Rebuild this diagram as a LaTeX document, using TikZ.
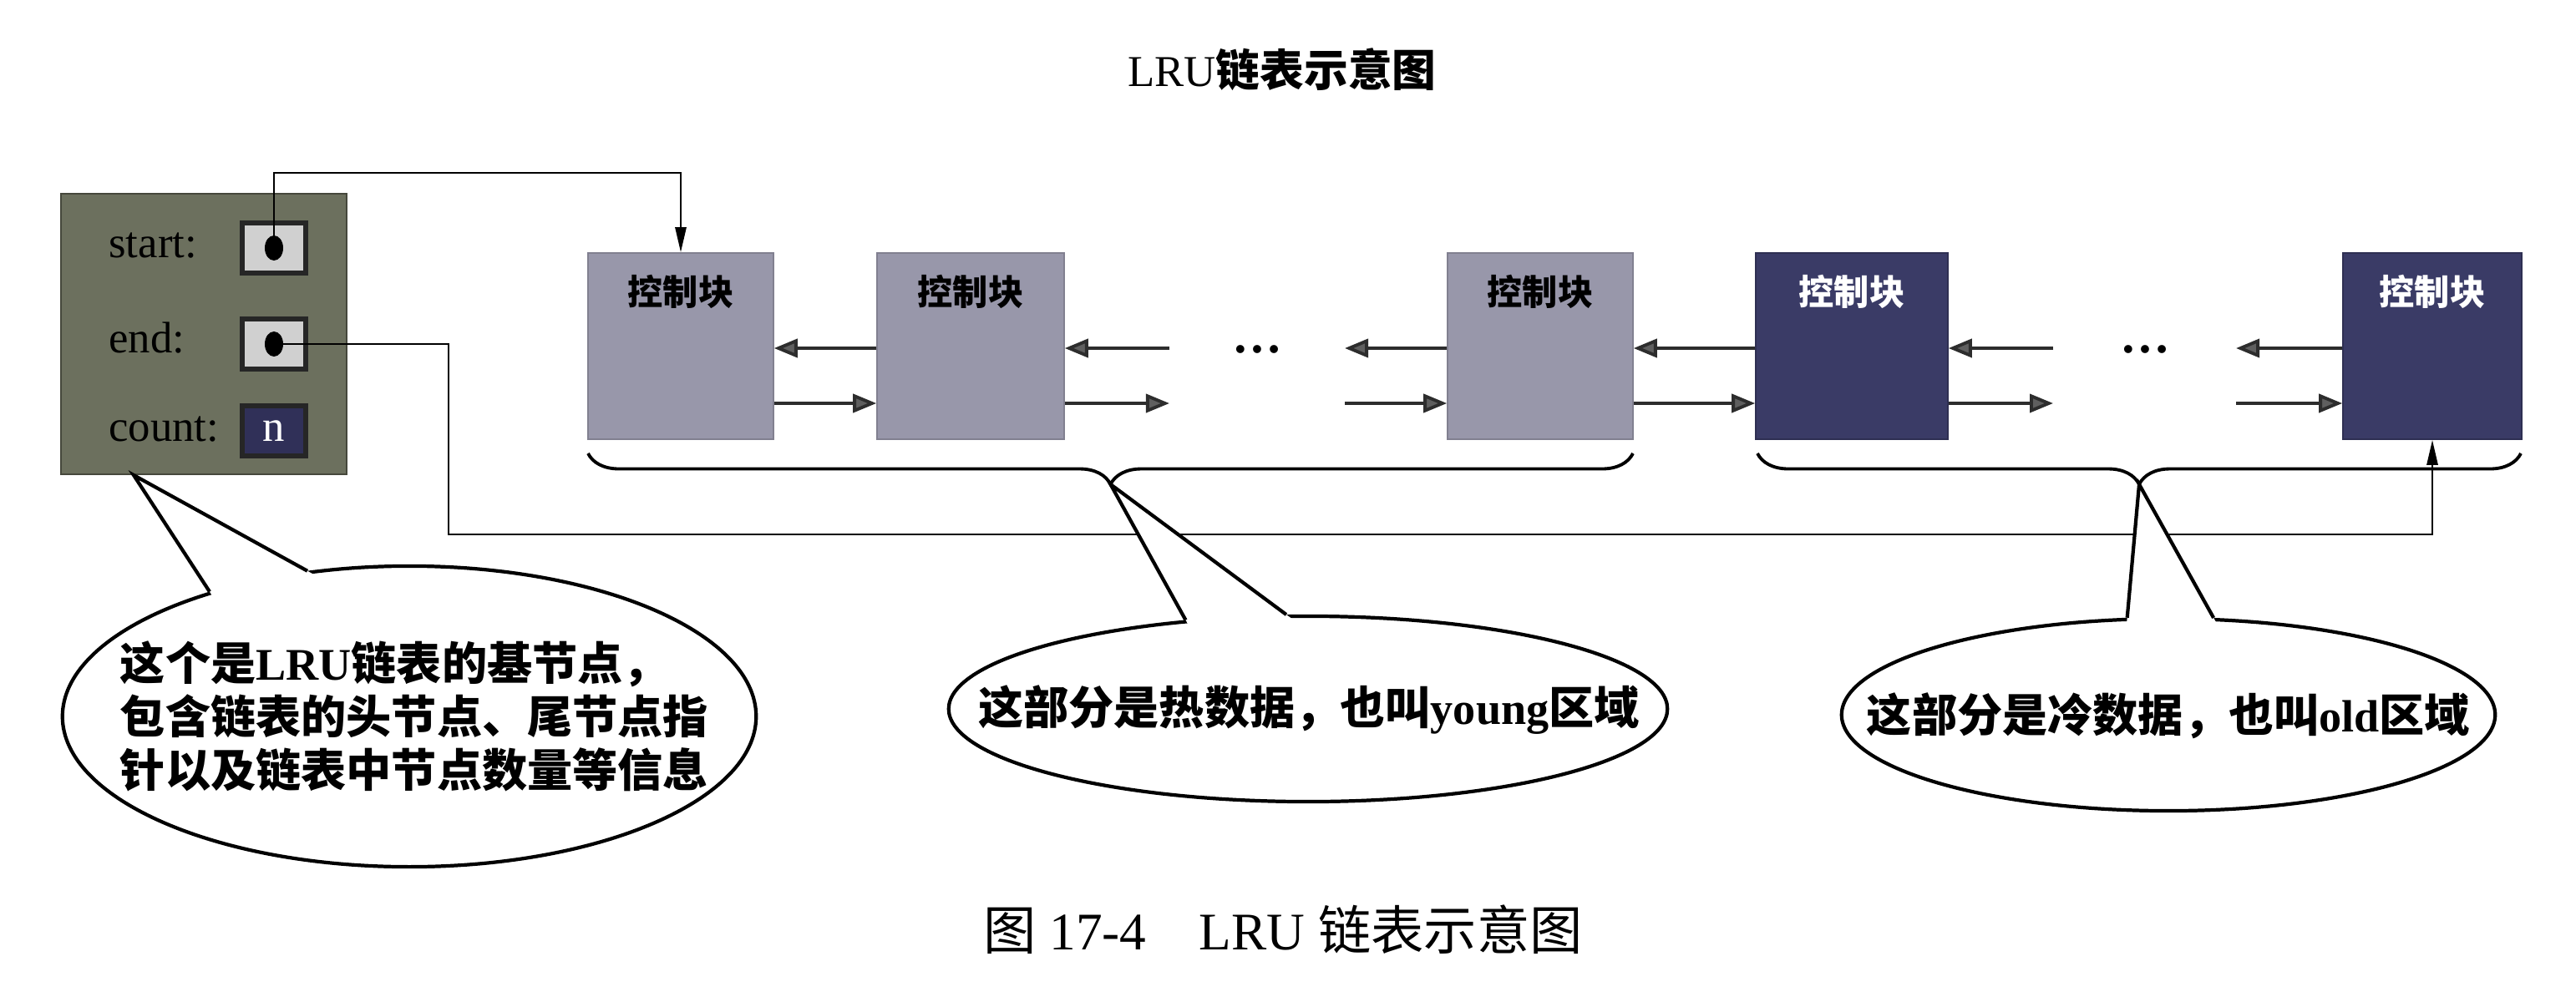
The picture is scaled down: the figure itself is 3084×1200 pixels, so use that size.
\documentclass[tikz,border=0pt]{standalone}
\usepackage{fontspec}
\setmainfont{Liberation Serif}
\newfontfamily\cjk{Noto Sans CJK SC}
\usetikzlibrary{shapes.geometric,arrows.meta,decorations.pathreplacing,calc}
\definecolor{basebg}{RGB}{108,112,94}
\definecolor{baseedge}{RGB}{70,72,60}
\definecolor{hotbox}{RGB}{152,151,170}
\definecolor{coldbox}{RGB}{58,59,102}
\definecolor{slotbg}{RGB}{208,208,208}
\definecolor{countbg}{RGB}{48,48,88}
\definecolor{headgray}{RGB}{95,95,95}
\definecolor{linkgray}{RGB}{45,45,45}
\begin{document}
\begin{tikzpicture}[x=0.01cm, y=-0.01cm,
  cell/.style={rectangle, inner sep=0, minimum height=2.23cm},
  hot/.style={cell, fill=hotbox, draw=hotbox!85!black, line width=0.4pt},
  cold/.style={cell, fill=coldbox, draw=coldbox!80!black, line width=0.4pt},
  celltext/.style={font=\cjk\bfseries\fontsize{12pt}{14pt}\selectfont},
  link/.style={draw=linkgray, line width=1.1pt, -{Triangle[length=0.28cm,width=0.22cm,fill=headgray]}},
  ptr/.style={draw=black, line width=0.8pt, -{Triangle[length=0.3cm,width=0.13cm]}},
  slot/.style={rectangle, inner sep=0, minimum width=0.75cm, minimum height=0.6cm, line width=1.7pt, draw=black!85},
  field/.style={font=\fontsize{15pt}{18pt}\selectfont, anchor=base west},
  bubble/.style={ellipse, draw=black, line width=1.2pt, fill=white, inner sep=0},
  bubbletext/.style={font=\bfseries\fontsize{15.4pt}{18.2pt}\selectfont, align=left},
  bracket/.style={draw=black, line width=1.1pt, decorate, decoration={brace, mirror, amplitude=0.37cm}},
  pointer/.style={draw=black, line width=1.2pt, line join=miter},
  dotsmark/.style={font=\bfseries\fontsize{17pt}{17pt}\selectfont, anchor=base}
]
\useasboundingbox (0,0) rectangle (3084,1200);

% title
\node[font=\fontsize{15pt}{18pt}\selectfont] (title) at (1535,83) {LRU{\cjk\bfseries 链表示意图}};

% base node
\node[rectangle, fill=basebg, draw=baseedge, line width=0.6pt, minimum width=3.42cm, minimum height=3.36cm, inner sep=0] (base) at (244,400) {};
\node[field] (lstart) at (118,308) {start:};
\node[field] (lend) at (118,422) {end:};
\node[field] (lcount) at (118,528) {count:};
\node[slot, fill=slotbg] (sslot) at (328,297) {};
\node[slot, fill=slotbg] (eslot) at (328,412) {};
\node[slot, fill=countbg, text=white, font=\fontsize{15pt}{18pt}\selectfont] (cslot) at (328,516) {n};
\node[ellipse, fill=black, minimum width=0.22cm, minimum height=0.30cm, inner sep=0] (sdot) at (sslot) {};
\node[ellipse, fill=black, minimum width=0.22cm, minimum height=0.30cm, inner sep=0] (edot) at (eslot) {};

% control blocks
\node[hot, minimum width=2.22cm] (b1) at (815,414.5) {};
\node[hot, minimum width=2.24cm] (b2) at (1162,414.5) {};
\node[hot, minimum width=2.22cm] (b3) at (1844,414.5) {};
\node[cold, minimum width=2.30cm] (b4) at (2217,414.5) {};
\node[cold, minimum width=2.14cm] (b5) at (2912,414.5) {};
\node[celltext] (t1) at ([yshift=-0.47cm]b1.north) {控制块};
\node[celltext] (t2) at ([yshift=-0.47cm]b2.north) {控制块};
\node[celltext] (t3) at ([yshift=-0.47cm]b3.north) {控制块};
\node[celltext, text=white] (t4) at ([yshift=-0.47cm]b4.north) {控制块};
\node[celltext, text=white] (t5) at ([yshift=-0.47cm]b5.north) {控制块};

\node[dotsmark] (dots1) at (1505,422) {…};
\node[dotsmark] (dots2) at (2568,422) {…};

% link rows
\coordinate (rb) at (0,417);
\coordinate (rf) at (0,483);
\coordinate (dl1) at (1400,0);
\coordinate (dr1) at (1610,0);
\coordinate (dl2) at (2458,0);
\coordinate (dr2) at (2677,0);

\draw[link] (b2.west |- rb) -- (b1.east |- rb);
\draw[link] (b1.east |- rf) -- (b2.west |- rf);
\draw[link] (dl1 |- rb) -- (b2.east |- rb);
\draw[link] (b2.east |- rf) -- (dl1 |- rf);
\draw[link] (b3.west |- rb) -- (dr1 |- rb);
\draw[link] (dr1 |- rf) -- (b3.west |- rf);
\draw[link] (b4.west |- rb) -- (b3.east |- rb);
\draw[link] (b3.east |- rf) -- (b4.west |- rf);
\draw[link] (dl2 |- rb) -- (b4.east |- rb);
\draw[link] (b4.east |- rf) -- (dl2 |- rf);
\draw[link] (b5.west |- rb) -- (dr2 |- rb);
\draw[link] (dr2 |- rf) -- (b5.west |- rf);

% start / end pointers
\coordinate (stop) at (0,207);
\draw[ptr] (sdot.center) -- (sdot.center |- stop) -- (b1.north |- stop) -- (b1.north);
\coordinate (ecorner) at (537,640);
\draw[ptr] (edot.center) -- (edot.center -| ecorner) -- (ecorner) -- (ecorner -| b5.south) -- (b5.south);

% braces
\draw[bracket] (704,543) -- (1955,543);
\draw[bracket] (2104,543) -- (3018,543);
\coordinate (tip1) at (1329.5,580);
\coordinate (tip2) at (2561,580);
\coordinate (tip0) at (160,569);

% callout 1
\node[bubble, minimum width=8.30cm, minimum height=3.60cm] (e1) at (490,858) {};
\fill[white] (tip0) -- ($(tip0)!1.2!(e1.125)$) -- ($(tip0)!1.2!(e1.148)$) -- cycle;
\draw[pointer] (e1.148) -- (tip0) -- (e1.125);
\node[bubbletext] (c1) at (496,858) {{\cjk 这个是}LRU{\cjk 链表的基节点，}\\{\cjk 包含链表的头节点、尾节点指}\\{\cjk 针以及链表中节点数量等信息}};

% callout 2
\node[bubble, minimum width=8.60cm, minimum height=2.22cm] (e2) at (1566,849) {};
\fill[white] (tip1) -- ($(tip1)!1.2!(e2.103)$) -- ($(tip1)!1.2!(e2.144)$) -- cycle;
\draw[pointer] (e2.144) -- (tip1) -- (e2.103);
\node[bubbletext] (c2) at (1567,850) {{\cjk 这部分是热数据，也叫}young{\cjk 区域}};

% callout 3
\node[bubble, minimum width=7.82cm, minimum height=2.30cm] (e3) at (2596,856) {};
\fill[white] (tip2) -- ($(tip2)!1.2!(e3.65)$) -- ($(tip2)!1.2!(e3.113)$) -- cycle;
\draw[pointer] (e3.113) -- (tip2) -- (e3.65);
\node[bubbletext] (c3) at (2596,857) {{\cjk 这部分是冷数据，也叫}old{\cjk 区域}};

% caption
\node[font=\fontsize{18pt}{22pt}\selectfont] (cap) at (1536,1113) {{\cjk 图} 17-4\quad LRU {\cjk 链表示意图}};
\end{tikzpicture}
\end{document}
